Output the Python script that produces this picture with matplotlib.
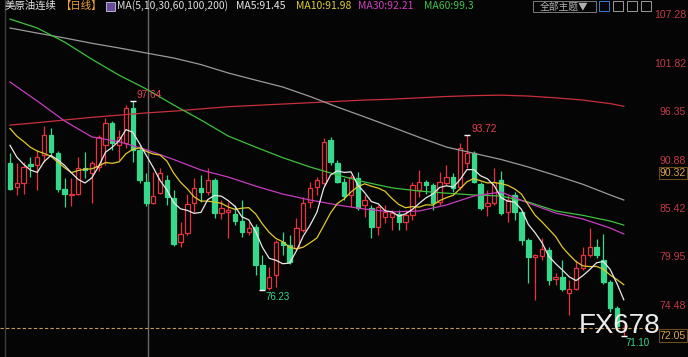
import numpy as np
import pandas as pd
import matplotlib
matplotlib.use("Agg")
import matplotlib.pyplot as plt
from matplotlib.patches import Rectangle

W, H = 688, 357

# daily candles (WTI continuous)
opens  = [90.6, 87.9, 88.35, 90.5, 90.37, 91.5, 93.76, 91.73, 87.67, 87.0,
          87.1, 90.04, 89.47, 90.15, 92.63, 95.1, 92.63, 92.86, 96.8, 92.07,
          88.46, 86.09, 87.22, 88.68, 86.65, 81.69, 82.71, 86.09, 87.78, 87.33,
          88.68, 84.96, 85.08, 84.85, 84.06, 82.82, 83.38, 79.1, 76.51, 77.97,
          81.69, 81.35, 81.0, 83.05, 86.2, 87.9, 88.35, 93.19, 90.6, 88.46,
          87.0, 88.9, 85.87, 85.53, 83.38, 84.51, 84.51, 84.85, 83.95, 84.74,
          87.56, 88.46, 88.12, 86.2, 88.35, 89.02, 87.9, 90.6, 91.73, 88.23,
          85.75, 86.09, 88.68, 85.08, 87.0, 85.08, 81.92, 80.0, 80.12, 80.79,
          77.52, 77.75, 75.94, 76.4, 78.76, 80.23, 81.13, 79.66, 77.18, 74.25,
          71.95]
highs  = [91.7, 90.6, 90.7, 91.28, 92.07, 94.77, 94.55, 91.95, 88.9, 88.9,
          91.28, 91.84, 90.8, 93.76, 95.67, 95.3, 94.32, 97.14, 97.64, 92.6,
          89.47, 89.58, 90.04, 89.25, 87.56, 83.95, 87.1, 88.9, 89.25, 90.04,
          88.9, 86.43, 86.2, 85.87, 86.43, 83.95, 83.72, 80.23, 78.88, 81.92,
          82.82, 82.48, 84.4, 86.77, 88.46, 89.0, 93.42, 93.53, 90.94, 88.9,
          89.25, 89.58, 87.0, 85.87, 85.87, 85.87, 85.3, 85.3, 85.3, 88.46,
          89.81, 88.68, 88.35, 89.58, 90.37, 89.47, 92.86, 93.72, 91.95, 88.46,
          87.56, 90.04, 89.7, 87.0, 87.33, 85.2, 82.14, 80.3, 82.14, 81.13,
          78.2, 79.66, 77.41, 79.66, 81.13, 83.27, 82.0, 82.6, 77.41, 74.48,
          72.3]
lows   = [87.56, 87.0, 87.1, 89.0, 87.56, 90.7, 91.28, 87.33, 85.64, 85.75,
          87.0, 88.9, 86.09, 89.7, 90.37, 92.07, 90.94, 92.3, 90.7, 88.35,
          85.75, 85.98, 87.1, 85.87, 81.24, 81.13, 82.5, 85.07, 86.2, 87.0,
          84.4, 84.29, 82.14, 83.6, 82.26, 82.48, 77.97, 76.23, 76.28, 76.62,
          80.23, 79.2, 80.8, 82.8, 85.53, 87.0, 88.1, 90.37, 88.35, 86.43,
          85.64, 85.3, 84.51, 82.14, 82.48, 83.83, 83.05, 83.05, 83.05, 84.17,
          86.77, 87.1, 85.3, 85.87, 88.1, 87.33, 87.56, 90.04, 88.3, 85.3,
          84.62, 85.87, 84.74, 83.95, 84.17, 81.35, 77.07, 75.15, 79.66, 76.85,
          76.85, 76.17, 73.46, 76.28, 78.54, 80.0, 79.9, 77.0, 73.8, 72.0,
          71.10]
closes = [87.67, 88.35, 90.15, 90.26, 91.28, 93.76, 91.84, 87.67, 87.1, 87.1,
          90.04, 89.81, 90.6, 93.53, 95.1, 92.86, 93.53, 96.8, 92.07, 88.68,
          86.09, 86.88, 89.47, 86.77, 81.47, 82.6, 86.0, 87.78, 87.33, 88.68,
          84.96, 85.53, 85.3, 84.06, 82.82, 83.27, 79.1, 76.35, 77.75, 81.69,
          81.35, 79.44, 83.27, 86.09, 87.78, 88.68, 92.97, 90.71, 88.46, 86.88,
          89.02, 85.53, 86.43, 83.38, 85.64, 85.08, 84.96, 83.95, 84.74, 88.12,
          88.46, 88.12, 86.09, 88.46, 89.02, 87.78, 92.3, 91.73, 88.46, 85.53,
          86.09, 88.46, 84.96, 86.43, 85.08, 81.92, 80.0, 80.23, 80.9, 77.41,
          77.75, 76.4, 76.4, 78.76, 80.23, 81.13, 80.23, 77.18, 74.25, 72.2,
          72.05]
# closes before the first visible day (only feed MA5 / MA10)
prior_closes = [97.0, 96.2, 96.8, 95.5, 96.5, 95.0, 94.2, 93.5, 92.6]

# long averages, read at every 4th session
ma_idx = [0, 4, 8, 12, 16, 20, 24, 28, 32, 36, 40, 44, 48, 52, 56, 60,
          64, 68, 72, 76, 80, 84, 88, 90]
ma30  = [99.73, 97.59, 95.34, 93.55, 93.0, 92.1, 91.0, 89.81, 89.02, 88.0,
         87.1, 86.43, 85.87, 85.41, 85.08, 85.19, 85.87, 86.88, 87.33, 86.09,
         84.96, 84.29, 83.27, 82.6]
ma60  = [106.83, 105.82, 104.24, 102.3, 100.5, 98.94, 97.14, 95.45, 93.64, 92.4,
         91.2, 90.15, 89.25, 88.46, 87.8, 87.44, 87.2, 87.0, 86.88, 86.2,
         85.2, 84.7, 84.06, 83.6]
ma100 = [105.82, 105.25, 104.7, 104.1, 103.57, 103.0, 102.44, 101.7, 100.75, 99.95,
         99.17, 98.1, 96.91, 95.8, 94.66, 93.5, 92.4, 91.7, 91.0, 90.15,
         89.2, 88.2, 87.0, 86.43]
ma200 = [94.88, 95.15, 95.45, 95.75, 96.0, 96.25, 96.45, 96.7, 96.95, 97.1,
         97.25, 97.4, 97.55, 97.7, 97.8, 97.95, 98.1, 98.2, 98.25, 98.15,
         97.95, 97.7, 97.3, 97.0]

axis_ticks = [107.28, 101.82, 96.35, 90.88, 85.42, 79.95, 74.48]
last_price = 72.05
cursor_price = "90.32"
peaks = [(18, "high"), (67, "high"), (37, "low"), (90, "low")]

RED = "#e8323f"
GREEN = "#36d98c"
NUM = "Liberation Sans"
CJK = ["Noto Sans CJK SC", "Liberation Sans", "DejaVu Sans"]

# pixel layout of the reference: candle 0 at x=10, 6.82 px apart
X0, DX = 10.0, 6.82
Y_TOP, Y_BOT = 108.98, 68.73

fig = plt.figure(figsize=(W / 100, H / 100), dpi=100)
fig.patch.set_facecolor("#050505")
ax = fig.add_axes([0, 0, 1, 1])
ax.set_facecolor("#050505")
ax.set_xlim(-X0 / DX, (W - X0) / DX)
ax.set_ylim(Y_BOT, Y_TOP)
ax.axis("off")

def px(x):
    return (x - X0) / DX

# frame lines
ax.axvline(px(4.7), color="#3c3c3c", lw=1.0, zorder=1)
ax.axvline(px(148.3), color="#6a6a6a", lw=1.0, zorder=1)

# candles
n = len(closes)
xs = np.arange(n)
for i in range(n):
    o, h, l, c = opens[i], highs[i], lows[i], closes[i]
    up = c >= o
    col = RED if up else GREEN
    ax.vlines(i, l, h, color=col, lw=0.9, zorder=3)
    body = max(abs(c - o), 0.1)
    ax.bar(i, body, bottom=min(o, c), width=0.64,
           facecolor="#050505" if up else GREEN, edgecolor=col,
           linewidth=0.9, zorder=4)

# moving averages
s = pd.Series(prior_closes + closes)
ma5 = s.rolling(5).mean().iloc[len(prior_closes):].values
ma10 = s.rolling(10).mean().iloc[len(prior_closes):].values
ax.plot(ma_idx, ma200, color="#c8303a", lw=0.9, zorder=5)
ax.plot(ma_idx, ma100, color="#9a9a9a", lw=0.9, zorder=5)
ax.plot(ma_idx, ma60, color="#3cc23c", lw=0.9, zorder=5)
ax.plot(ma_idx, ma30, color="#c83cc0", lw=0.9, zorder=5)
ax.plot(xs, ma10, color="#e0c82e", lw=0.9, zorder=6)
ax.plot(xs, ma5, color="#e8e8e8", lw=0.9, zorder=6)

# extremes
for i, kind in peaks:
    if kind == "high":
        v = highs[i]
        ax.plot(i, v, marker="_", color="white", ms=5, mew=1, zorder=7)
        ax.text(i + 0.6, v + 0.1, f"{v:.2f}", color="#e8404e", fontsize=7.3,
                family=NUM, ha="left", va="bottom", zorder=8)
    else:
        v = lows[i]
        ax.plot(i, v, marker="_", color="white", ms=5, mew=1, zorder=7)
        dx = 0.3 if i == n - 1 else 0.45
        ax.text(i + dx, v - 0.2, f"{v:.2f}", color="#36d98c", fontsize=7.0,
                family=NUM, ha="left", va="top", zorder=8)

# last price
ax.hlines(last_price, -X0 / DX, px(655), color="#c89a55", lw=0.8,
          linestyles=(0, (3, 2)), zorder=6)

# right axis labels
for t in axis_ticks:
    ax.text(px(686), t, f"{t:.2f}", color="#c23a48", fontsize=7.6, family=NUM,
            ha="right", va="center", zorder=8)
ax.text(px(686), 89.45, cursor_price, color="#d9a24e", fontsize=7.6, family=NUM,
        ha="right", va="center", zorder=8,
        bbox=dict(boxstyle="square,pad=0.1", fc="#050505", ec="#6e4c1e", lw=0.8))
ax.text(px(686), 71.15, f"{last_price:.2f}", color="#d9a24e", fontsize=7.6,
        family=NUM, ha="right", va="center", zorder=8,
        bbox=dict(boxstyle="square,pad=0.1", fc="#050505", ec="#6e4c1e", lw=0.8))

# watermark
ax.text(620 / W, 1 - 326 / H, "FX678", transform=ax.transAxes,
        color="#ececec", fontsize=20, family=NUM, ha="center", va="center",
        zorder=9)

# header
def fx(x):
    return x / W

hy = 1 - 6 / H
header = [("美原油连续", 5, "#e4e4e4"), ("【日线】", 60, "#f0a030"),
          ("MA(5,10,30,60,100,200)", 117, "#dcdcdc"), ("MA5:91.45", 236, "#e6e6e6"),
          ("MA10:91.98", 296, "#e0cf2e"), ("MA30:92.21", 358, "#d040c0"),
          ("MA60:99.3", 424, "#3fc24a")]
for txt, x, col in header:
    ax.text(fx(x), hy, txt, transform=ax.transAxes, color=col, fontsize=7.5,
            family=CJK, ha="left", va="center", zorder=9)

# small icon next to the period
ax.add_patch(Rectangle((fx(106), 1 - 11 / H), fx(9), 9 / H, transform=ax.transAxes,
                       fc="#6a4a9a", ec="#c8c8e8", lw=0.6, zorder=9))

# right side buttons
ax.add_patch(Rectangle((fx(533), 1 - 12 / H), fx(63), 11 / H, transform=ax.transAxes,
                       fc="#050505", ec="#7a7a7a", lw=0.7, zorder=9))
ax.text(fx(564), 1 - 6.5 / H, "全部主题▼", transform=ax.transAxes, color="#b0b0b0",
        fontsize=7, family=CJK, ha="center", va="center", zorder=10)
for k, x in enumerate([599, 613, 627, 641]):
    ax.add_patch(Rectangle((fx(x), 1 - 11 / H), fx(10), 10 / H,
                           transform=ax.transAxes, fc="#050505",
                           ec="#3a7bd5" if k == 0 else "#9a9a9a", lw=0.7, zorder=9))

fig.savefig("out.png", dpi=100, facecolor=fig.get_facecolor())
